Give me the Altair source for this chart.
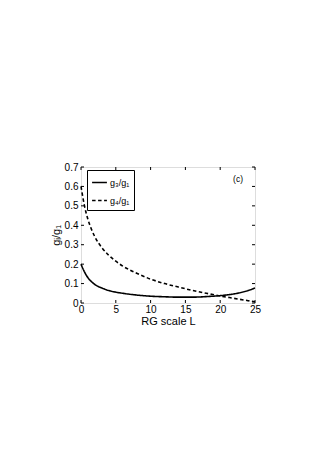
import altair as alt
import pandas as pd

L = [0, 0.5, 1, 1.5, 2, 3, 4, 5, 6, 7, 8, 10, 12, 14, 16, 18, 20, 22, 24, 25]
g3 = [0.20, 0.16, 0.13, 0.11, 0.095, 0.077, 0.064, 0.056, 0.050, 0.045, 0.041,
      0.035, 0.032, 0.030, 0.030, 0.033, 0.038, 0.047, 0.064, 0.077]
g4 = [0.60, 0.50, 0.43, 0.38, 0.34, 0.285, 0.245, 0.215, 0.19, 0.17, 0.153,
      0.123, 0.10, 0.082, 0.065, 0.05, 0.036, 0.024, 0.012, 0.006]
series = ["g₃/g₁", "g₄/g₁"]
x_ticks = [0, 5, 10, 15, 20, 25]
y_ticks = [0, 0.1, 0.2, 0.3, 0.4, 0.5, 0.6, 0.7]
panel_label = "(c)"

rows = []
for i, l in enumerate(L):
    rows.append({"L": l, "g": g3[i], "s": series[0]})
    rows.append({"L": l, "g": g4[i], "s": series[1]})
df = pd.DataFrame(rows)

W, H = 174, 136
FONT = "Liberation Sans"

xs = alt.Scale(domain=[0, 25], nice=False, zero=False)
ys = alt.Scale(domain=[0, 0.7], nice=False)

xaxis = alt.Axis(values=x_ticks, title="RG scale L", tickSize=0,
                 labelPadding=1, titlePadding=1, domain=False, grid=False,
                 labelFlush=False, labelOverlap=False, labelBound=False,
                 titleFontWeight="normal")
yaxis = alt.Axis(values=y_ticks, title="gᵢ/g₁", tickSize=0,
                 labelPadding=3, titlePadding=3, domain=False, grid=False,
                 labelFlush=False, labelOverlap=False, labelBound=False,
                 titleFontWeight="normal",
                 labelExpr="datum.value == 0 ? '0' : format(datum.value, '.1f')")

lines = alt.Chart(df).mark_line(color="black", strokeWidth=1.6, interpolate="monotone").encode(
    x=alt.X("L:Q", scale=xs, axis=xaxis, title="RG scale L"),
    y=alt.Y("g:Q", scale=ys, axis=yaxis, title="gᵢ/g₁"),
    strokeDash=alt.StrokeDash("s:N", scale=alt.Scale(domain=series, range=[[1, 0], [3.5, 2.5]]),
                              legend=alt.Legend(title=None, orient="none", legendX=6, legendY=3,
                                                symbolType="stroke", symbolSize=220,
                                                symbolStrokeWidth=1.6, symbolStrokeColor="black",
                                                labelFontSize=9, labelFont=FONT, labelOffset=2,
                                                strokeColor="black", fillColor="white",
                                                padding=4, rowPadding=4)),
)

xt = pd.DataFrame({"v": x_ticks})
yt = pd.DataFrame({"v": y_ticks})
tb = alt.Chart(xt).mark_rule(color="black", strokeWidth=1).encode(
    x=alt.X("v:Q", scale=xs, axis=xaxis, title="RG scale L"), y=alt.value(H), y2=alt.value(H - 3))
tt = alt.Chart(xt).mark_rule(color="black", strokeWidth=1).encode(
    x=alt.X("v:Q", scale=xs, axis=xaxis, title="RG scale L"), y=alt.value(0), y2=alt.value(3))
tl = alt.Chart(yt).mark_rule(color="black", strokeWidth=1).encode(
    y=alt.Y("v:Q", scale=ys, axis=yaxis, title="gᵢ/g₁"), x=alt.value(0), x2=alt.value(3))
tr = alt.Chart(yt).mark_rule(color="black", strokeWidth=1).encode(
    y=alt.Y("v:Q", scale=ys, axis=yaxis, title="gᵢ/g₁"), x=alt.value(W), x2=alt.value(W - 3))

lab = alt.Chart(pd.DataFrame({"t": [panel_label]})).mark_text(
    font=FONT, fontSize=8.5, color="black").encode(
    x=alt.value(157), y=alt.value(12), text="t:N")

chart = alt.layer(lines, tb, tt, tl, tr, lab).properties(
    width=W, height=H,
    autosize=alt.AutoSizeParams(type="none"),
    padding={"left": 73, "top": 159, "right": 56, "bottom": 140},
).configure_view(stroke="black", strokeWidth=1).configure_axis(
    labelFont=FONT, titleFont=FONT, labelFontSize=8.5, titleFontSize=9,
    titleFontWeight="normal", labelColor="black", titleColor="black",
).configure(background="white")

chart.save("out.html", embed_options={"renderer": "svg", "actions": False})
